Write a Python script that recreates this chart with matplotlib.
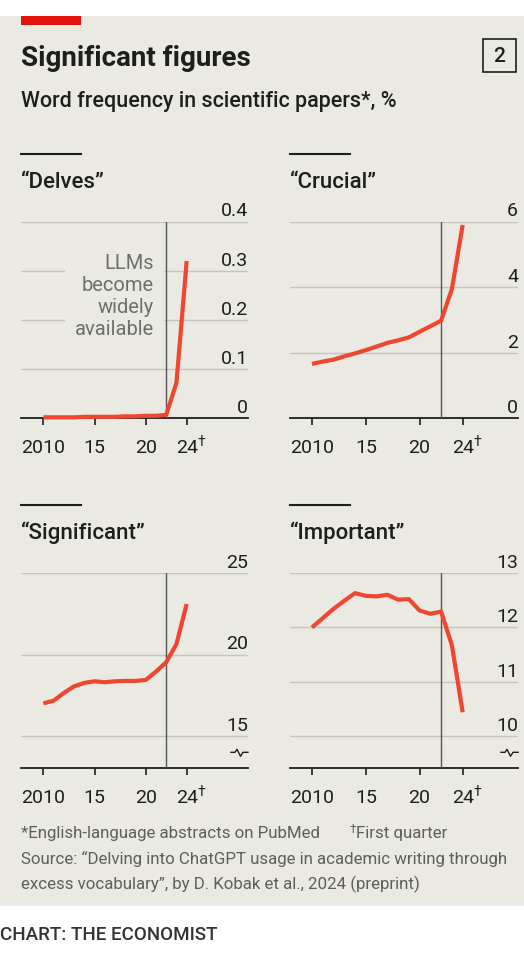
import matplotlib
matplotlib.use("Agg")
import matplotlib.pyplot as plt
from matplotlib.patches import Rectangle
from matplotlib.lines import Line2D

# 字體設定
plt.rcParams['font.family'] = ['Roboto', 'DejaVu Sans']

# ---- 資料 ----
years = list(range(2010, 2025))
delves = [0.002, 0.002, 0.002, 0.002, 0.003, 0.003, 0.003, 0.003,
          0.004, 0.004, 0.005, 0.005, 0.007, 0.072, 0.32]
crucial = [1.66, 1.73, 1.79, 1.89, 1.98, 2.08, 2.19, 2.30,
           2.38, 2.47, 2.64, 2.81, 2.98, 3.95, 5.9]
significant = [17.02, 17.18, 17.65, 18.06, 18.27, 18.37, 18.31, 18.37,
               18.39, 18.39, 18.45, 18.96, 19.53, 20.65, 23.1]
important = [12.0, 12.17, 12.34, 12.49, 12.63, 12.58, 12.57, 12.60,
             12.51, 12.52, 12.31, 12.25, 12.29, 11.67, 10.44]

panel_titles = ['“Delves”', '“Crucial”', '“Significant”', '“Important”']
panel_data = [delves, crucial, significant, important]
y_ticks = [[0, 0.1, 0.2, 0.3, 0.4], [0, 2, 4, 6], [15, 20, 25], [10, 11, 12, 13]]
y_labels = [['0', '0.1', '0.2', '0.3', '0.4'], ['0', '2', '4', '6'],
            ['15', '20', '25'], ['10', '11', '12', '13']]
y_limits = [(0, 0.4), (0, 6), (13.04, 25), (9.41, 13)]
broken_axis = [False, False, True, True]
x_ticks = [2010, 2015, 2020, 2024]
x_labels = ['2010', '15', '20', '24']
llm_year = 2022

# ---- 顏色 ----
BG = '#ebeae2'
RED_BAR = '#e3120b'
LINE_RED = '#f0452f'
GRID = '#c6c5bd'
DARK = '#1e1e1e'
GREY_TXT = '#6e6e6e'
FOOT = '#5e5e5e'

W, H = 524, 978


def fx(x):
    return x / W


def fy(y):
    return 1 - y / H


fig = plt.figure(figsize=(W / 100, H / 100), dpi=100)
fig.patch.set_facecolor('white')

# 背景面板
fig.add_artist(Rectangle((0, fy(907)), 1, fy(17) - fy(907), transform=fig.transFigure,
                         facecolor=BG, edgecolor='none', zorder=0))
# 紅色標記
fig.add_artist(Rectangle((fx(21), fy(26)), fx(60), fy(17) - fy(26), transform=fig.transFigure,
                         facecolor=RED_BAR, edgecolor='none', zorder=1))

fig.text(fx(21), fy(58), 'Significant figures', fontsize=20, fontweight='bold',
         color=DARK, va='center', ha='left')
fig.text(fx(21), fy(102), 'Word frequency in scientific papers*, %', fontsize=15.5,
         fontweight='medium', color=DARK, va='center', ha='left')

# 右上角的方框 "2"
fig.add_artist(Rectangle((fx(483), fy(73)), fx(33), fy(40) - fy(73), transform=fig.transFigure,
                         facecolor='none', edgecolor=DARK, linewidth=1.2, zorder=2))
fig.text(fx(499.5), fy(57), '2', fontsize=15, fontweight='medium', color=DARK,
         va='center', ha='center')

# 面板位置 (像素)
col_x = [(21, 248), (290, 518)]
col_xlim = [(2007.82, 2029.99), (2007.96, 2029.14)]
row_y = [(222.7, 419.3), (574, 769.3)]
rule_y = [154.7, 505.7]
title_y = [182, 532.7]

for i in range(4):
    r, c = divmod(i, 2)
    x0, x1 = col_x[c]
    ytop, ybot = row_y[r]
    ax = fig.add_axes([fx(x0), fy(ybot), fx(x1 - x0), fy(ytop) - fy(ybot)])
    ax.set_facecolor('none')
    ax.set_xlim(*col_xlim[c])
    ax.set_ylim(*y_limits[i])
    for s in ['top', 'left', 'right']:
        ax.spines[s].set_visible(False)
    ax.spines['bottom'].set_color(DARK)
    ax.spines['bottom'].set_linewidth(1.3)
    ax.set_yticks([])

    # 格線和標籤
    for v, lab in zip(y_ticks[i], y_labels[i]):
        if v != y_limits[i][0]:
            ax.axhline(v, color=GRID, linewidth=1.0, zorder=1)
        ax.annotate(lab, xy=(1, v), xycoords=('axes fraction', 'data'),
                    xytext=(0, 4.5), textcoords='offset points', ha='right', va='baseline',
                    fontsize=14, color=DARK)

    ax.axvline(llm_year, color='#555555', linewidth=1.0, zorder=3)
    ax.plot(years, panel_data[i], color=LINE_RED, linewidth=3, zorder=4,
            solid_capstyle='butt', clip_on=False)

    ax.set_xticks(x_ticks)
    ax.set_xticklabels(x_labels)
    ax.tick_params(axis='x', direction='out', length=5, width=1.2, color=DARK,
                   labelsize=14, labelcolor=DARK, pad=9)
    ax.annotate('†', xy=(2024, 0), xycoords=('data', 'axes fraction'),
                xytext=(8, -16), textcoords='offset points', fontsize=10,
                color=DARK, ha='left', va='center')

    if broken_axis[i]:
        # 斷軸符號
        zx = [-17, -13, -11, -7.5, -5, 0]
        zy = [0, 0, 3, -4, 0, 0]
        bx, by = ax.transAxes.transform((1, 0))
        by = by + 16
        pts = [fig.transFigure.inverted().transform((bx + a, by + b)) for a, b in zip(zx, zy)]
        fig.add_artist(Line2D([p[0] for p in pts], [p[1] for p in pts], color=DARK,
                              linewidth=1.0, transform=fig.transFigure))

    if i == 0:
        ax.text(2020.8, 0.25, 'LLMs\nbecome\nwidely\navailable', ha='right', va='center',
                fontsize=14.5, color=GREY_TXT, linespacing=1.2, zorder=2,
                bbox=dict(boxstyle='square,pad=0.5', facecolor=BG, edgecolor='none'))

    # 面板標題
    fig.add_artist(Line2D([fx(x0), fx(x0 + 60)], [fy(rule_y[r])] * 2, color=DARK,
                          linewidth=1.5, transform=fig.transFigure))
    fig.text(fx(x0), fy(title_y[r]), panel_titles[i], fontsize=16, fontweight='medium',
             color=DARK, va='center', ha='left')

# 註腳
fig.text(fx(21), fy(834), '*English-language abstracts on PubMed', fontsize=12.2,
         color=FOOT, va='center', ha='left')
fig.text(fx(350), fy(830), '†', fontsize=8.5, color=FOOT, va='center', ha='left')
fig.text(fx(356), fy(834), 'First quarter', fontsize=12.2, color=FOOT, va='center', ha='left')
fig.text(fx(21), fy(859), 'Source: “Delving into ChatGPT usage in academic writing through',
         fontsize=12.2, color=FOOT, va='center', ha='left')
fig.text(fx(21), fy(884), 'excess vocabulary”, by D. Kobak et al., 2024 (preprint)',
         fontsize=12.2, color=FOOT, va='center', ha='left')
fig.text(fx(0), fy(935), 'CHART: THE ECONOMIST', fontsize=13.5, fontweight='medium',
         color='#333333', va='center', ha='left')

fig.savefig('out.png', dpi=100, facecolor=fig.get_facecolor())
